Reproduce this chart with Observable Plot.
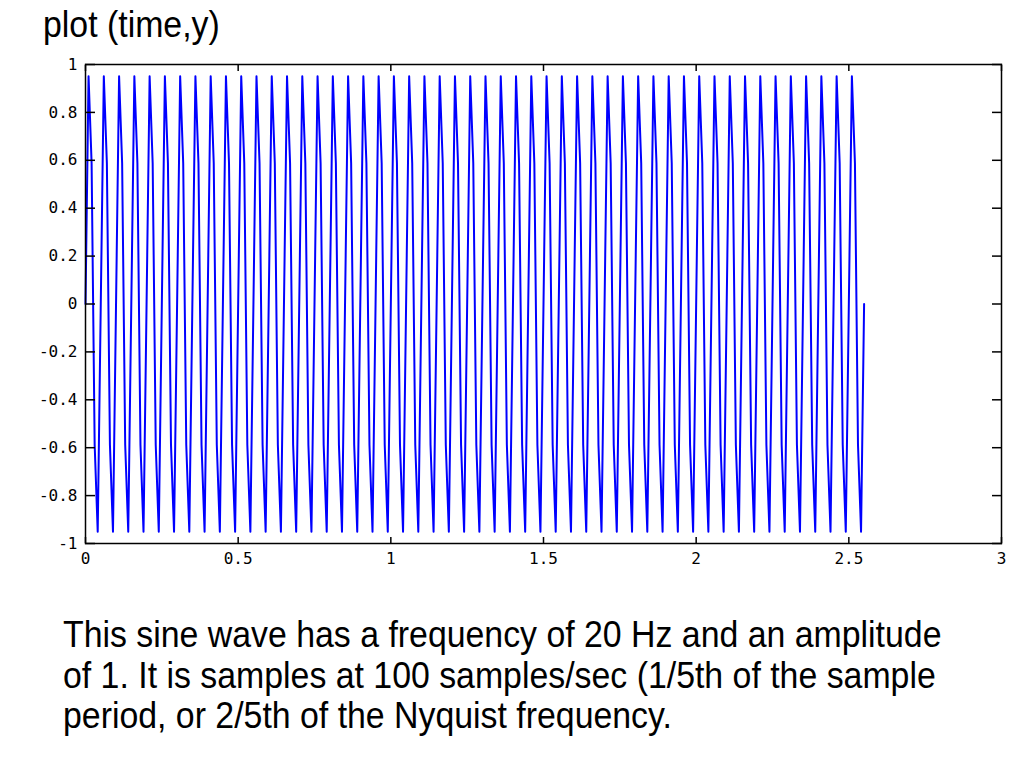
<!DOCTYPE html>
<html>
<head>
<meta charset="utf-8">
<script src="https://cdn.jsdelivr.net/npm/d3@7"></script>
<script src="https://cdn.jsdelivr.net/npm/@observablehq/plot@0.6"></script>
<style>
  html, body { margin: 0; padding: 0; background: #ffffff; width: 1024px; height: 768px; overflow: hidden; }
  #chart { position: absolute; left: 0; top: 0; }
  .title { position: absolute; left: 43px; top: 5px; font-family: "Liberation Sans", Arial, sans-serif; font-size: 36px; line-height: 40px; color: #000; white-space: nowrap; transform: scaleX(0.94); transform-origin: left top; }
  .caption { position: absolute; left: 63px; top: 615px; font-family: "Liberation Sans", Arial, sans-serif; font-size: 36px; line-height: 40.5px; color: #000; white-space: nowrap; transform: scaleX(0.94); transform-origin: left top; }
</style>
</head>
<body>
<div class="title">plot (time,y)</div>
<div id="chart"></div>
<div class="caption">This sine wave has a frequency of 20 Hz and an amplitude<br>of 1. It is samples at 100 samples/sec (1/5th of the sample<br>period, or 2/5th of the Nyquist frequency.</div>
<script>
const time = [
  0,0.01,0.02,0.03,0.04,0.05,0.06,0.07,0.08,0.09,
  0.1,0.11,0.12,0.13,0.14,0.15,0.16,0.17,0.18,0.19,
  0.2,0.21,0.22,0.23,0.24,0.25,0.26,0.27,0.28,0.29,
  0.3,0.31,0.32,0.33,0.34,0.35,0.36,0.37,0.38,0.39,
  0.4,0.41,0.42,0.43,0.44,0.45,0.46,0.47,0.48,0.49,
  0.5,0.51,0.52,0.53,0.54,0.55,0.56,0.57,0.58,0.59,
  0.6,0.61,0.62,0.63,0.64,0.65,0.66,0.67,0.68,0.69,
  0.7,0.71,0.72,0.73,0.74,0.75,0.76,0.77,0.78,0.79,
  0.8,0.81,0.82,0.83,0.84,0.85,0.86,0.87,0.88,0.89,
  0.9,0.91,0.92,0.93,0.94,0.95,0.96,0.97,0.98,0.99,
  1,1.01,1.02,1.03,1.04,1.05,1.06,1.07,1.08,1.09,
  1.1,1.11,1.12,1.13,1.14,1.15,1.16,1.17,1.18,1.19,
  1.2,1.21,1.22,1.23,1.24,1.25,1.26,1.27,1.28,1.29,
  1.3,1.31,1.32,1.33,1.34,1.35,1.36,1.37,1.38,1.39,
  1.4,1.41,1.42,1.43,1.44,1.45,1.46,1.47,1.48,1.49,
  1.5,1.51,1.52,1.53,1.54,1.55,1.56,1.57,1.58,1.59,
  1.6,1.61,1.62,1.63,1.64,1.65,1.66,1.67,1.68,1.69,
  1.7,1.71,1.72,1.73,1.74,1.75,1.76,1.77,1.78,1.79,
  1.8,1.81,1.82,1.83,1.84,1.85,1.86,1.87,1.88,1.89,
  1.9,1.91,1.92,1.93,1.94,1.95,1.96,1.97,1.98,1.99,
  2,2.01,2.02,2.03,2.04,2.05,2.06,2.07,2.08,2.09,
  2.1,2.11,2.12,2.13,2.14,2.15,2.16,2.17,2.18,2.19,
  2.2,2.21,2.22,2.23,2.24,2.25,2.26,2.27,2.28,2.29,
  2.3,2.31,2.32,2.33,2.34,2.35,2.36,2.37,2.38,2.39,
  2.4,2.41,2.42,2.43,2.44,2.45,2.46,2.47,2.48,2.49,
  2.5,2.51,2.52,2.53,2.54,2.55
];
const yValues = [
  0,0.9511,0.5878,-0.5878,-0.9511,
  0,0.9511,0.5878,-0.5878,-0.9511,
  0,0.9511,0.5878,-0.5878,-0.9511,
  0,0.9511,0.5878,-0.5878,-0.9511,
  0,0.9511,0.5878,-0.5878,-0.9511,
  0,0.9511,0.5878,-0.5878,-0.9511,
  0,0.9511,0.5878,-0.5878,-0.9511,
  0,0.9511,0.5878,-0.5878,-0.9511,
  0,0.9511,0.5878,-0.5878,-0.9511,
  0,0.9511,0.5878,-0.5878,-0.9511,
  0,0.9511,0.5878,-0.5878,-0.9511,
  0,0.9511,0.5878,-0.5878,-0.9511,
  0,0.9511,0.5878,-0.5878,-0.9511,
  0,0.9511,0.5878,-0.5878,-0.9511,
  0,0.9511,0.5878,-0.5878,-0.9511,
  0,0.9511,0.5878,-0.5878,-0.9511,
  0,0.9511,0.5878,-0.5878,-0.9511,
  0,0.9511,0.5878,-0.5878,-0.9511,
  0,0.9511,0.5878,-0.5878,-0.9511,
  0,0.9511,0.5878,-0.5878,-0.9511,
  0,0.9511,0.5878,-0.5878,-0.9511,
  0,0.9511,0.5878,-0.5878,-0.9511,
  0,0.9511,0.5878,-0.5878,-0.9511,
  0,0.9511,0.5878,-0.5878,-0.9511,
  0,0.9511,0.5878,-0.5878,-0.9511,
  0,0.9511,0.5878,-0.5878,-0.9511,
  0,0.9511,0.5878,-0.5878,-0.9511,
  0,0.9511,0.5878,-0.5878,-0.9511,
  0,0.9511,0.5878,-0.5878,-0.9511,
  0,0.9511,0.5878,-0.5878,-0.9511,
  0,0.9511,0.5878,-0.5878,-0.9511,
  0,0.9511,0.5878,-0.5878,-0.9511,
  0,0.9511,0.5878,-0.5878,-0.9511,
  0,0.9511,0.5878,-0.5878,-0.9511,
  0,0.9511,0.5878,-0.5878,-0.9511,
  0,0.9511,0.5878,-0.5878,-0.9511,
  0,0.9511,0.5878,-0.5878,-0.9511,
  0,0.9511,0.5878,-0.5878,-0.9511,
  0,0.9511,0.5878,-0.5878,-0.9511,
  0,0.9511,0.5878,-0.5878,-0.9511,
  0,0.9511,0.5878,-0.5878,-0.9511,
  0,0.9511,0.5878,-0.5878,-0.9511,
  0,0.9511,0.5878,-0.5878,-0.9511,
  0,0.9511,0.5878,-0.5878,-0.9511,
  0,0.9511,0.5878,-0.5878,-0.9511,
  0,0.9511,0.5878,-0.5878,-0.9511,
  0,0.9511,0.5878,-0.5878,-0.9511,
  0,0.9511,0.5878,-0.5878,-0.9511,
  0,0.9511,0.5878,-0.5878,-0.9511,
  0,0.9511,0.5878,-0.5878,-0.9511,
  0,0.9511,0.5878,-0.5878,-0.9511,
  0
];
const xTicks = [0, 0.5, 1, 1.5, 2, 2.5, 3];
const xTickLabels = ["0", "0.5", "1", "1.5", "2", "2.5", "3"];
const yTicks = [-1, -0.8, -0.6, -0.4, -0.2, 0, 0.2, 0.4, 0.6, 0.8, 1];
const yTickLabels = ["-1", "-0.8", "-0.6", "-0.4", "-0.2", "0", "0.2", "0.4", "0.6", "0.8", "1"];

const data = time.map((t, i) => ({t, y: yValues[i]}));

const labelFont = "'DejaVu Sans Mono', monospace";

const chart = Plot.plot({
  width: 1024,
  height: 580,
  marginLeft: 85,
  marginRight: 23,
  marginTop: 64,
  marginBottom: 37,
  x: {domain: [0, 3], label: null},
  y: {domain: [-1, 1], label: null},
  style: {background: "transparent", fontFamily: labelFont, fontSize: "16px", color: "#000"},
  marks: [
    Plot.line(data, {x: "t", y: "y", stroke: "#0000ff", strokeWidth: 2}),
    Plot.frame({stroke: "#000", strokeWidth: 1.5}),
    Plot.axisX({anchor: "bottom", ticks: xTicks, tickSize: -6, tickPadding: 15, tickFormat: (d, i) => xTickLabels[i], label: null, fontSize: 16, fontFamily: labelFont, stroke: "#000", fill: "#000", strokeWidth: 1.5}),
    Plot.axisX({anchor: "top", ticks: xTicks, tickSize: -6, tickFormat: () => "", label: null, stroke: "#000", strokeWidth: 1.5}),
    Plot.axisY({anchor: "left", ticks: yTicks, tickSize: -10, tickPadding: 18, tickFormat: (d, i) => yTickLabels[i], label: null, fontSize: 16, fontFamily: labelFont, stroke: "#000", fill: "#000", strokeWidth: 1.5}),
    Plot.axisY({anchor: "right", ticks: yTicks, tickSize: -10, tickFormat: () => "", label: null, stroke: "#000", strokeWidth: 1.5})
  ]
});
document.getElementById("chart").appendChild(chart);
</script>
</body>
</html>
